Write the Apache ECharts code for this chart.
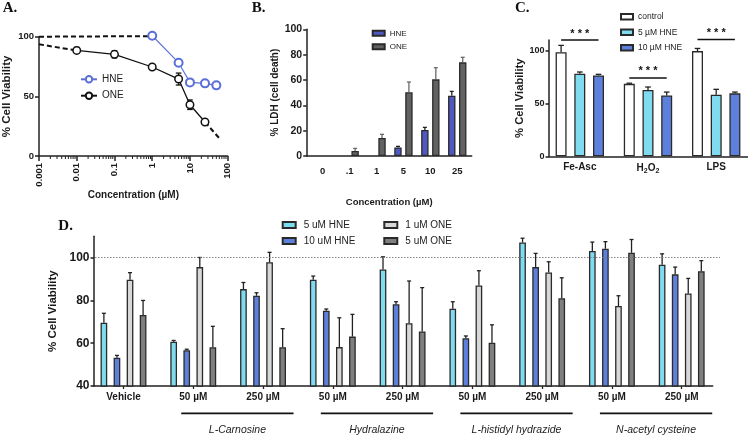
<!DOCTYPE html>
<html><head><meta charset="utf-8">
<script src="https://cdn.jsdelivr.net/npm/echarts@6/dist/echarts.min.js"></script>
<style>html,body{margin:0;padding:0;background:#fff}#c{width:748px;height:437px}</style>
</head><body><div id="c"></div>
<script>
// ---------- Panel A data ----------
const aXTicks = [0.001, 0.01, 0.1, 1, 10, 100];
const aHneConc = [1, 5, 10, 25, 50];
const aHneViab = [100.8, 78.2, 61.7, 60.9, 59.2];
const aOneConc = [0.01, 0.1, 1, 5, 10, 25];
const aOneViab = [88.5, 85.2, 74.6, 64.5, 43.0, 28.5];
const aOneErr = [2.5, 3.0, 2.0, 5.0, 4.0, 1.5];
const aHneFitConc = [0.001, 1];
const aHneFitViab = [100, 100.5];
const aOneFitLowConc = [0.001, 0.01];
const aOneFitLowViab = [93.6, 88.5];
const aOneFitHighConc = [25, 66];
const aOneFitHighViab = [28.5, 13.4];
// ---------- Panel B data ----------
const bCats = ['0', '.1', '1', '5', '10', '25'];
const bHne = [null, null, null, 6.8, 20.5, 47.6];
const bHneErr = [null, null, null, 0.8, 2.1, 3.4];
const bOne = [null, 3.9, 14.2, 50.3, 60.5, 73.9];
const bOneErr = [null, 2.1, 2.9, 8.1, 9.2, 4.0];
// ---------- Panel C data ----------
const cCats = ['Fe-Asc', 'H2O2', 'LPS'];
const cControl = [98.5, 68.6, 99.6];
const cControlErr = [6.5, 0.6, 2.5];
const cHne5 = [78.2, 62.7, 58.3];
const cHne5Err = [1.6, 2.9, 5.1];
const cHne10 = [76.6, 57.6, 59.6];
const cHne10Err = [1.0, 3.2, 1.2];
const cSigLevel = [110.1, 74.2, 110.5];
const cSigText = ['***', '***', '***'];
// ---------- Panel D data ----------
const dCats = ['Vehicle', '50 µM', '250 µM', '50 µM', '250 µM', '50 µM', '250 µM', '50 µM', '250 µM'];
const dHne5 = [69.6, 60.7, 85.3, 89.7, 94.5, 76.1, 107.1, 103.1, 96.7];
const dHne5Err = [4.4, 0.6, 3.1, 1.7, 5.9, 3.3, 2.0, 4.2, 5.1];
const dHne10 = [53.2, 56.7, 82.2, 75.2, 78.2, 62.3, 95.6, 104.2, 92.2];
const dHne10Err = [1.1, 0.5, 1.4, 0.8, 1.2, 1.1, 6.4, 3.3, 3.4];
const dOne1 = [89.7, 95.6, 97.9, 58.2, 69.4, 87.0, 93.1, 77.4, 83.3];
const dOne1Err = [3.3, 4.5, 4.6, 13.7, 19.7, 6.9, 5.0, 4.8, 7.0];
const dOne5 = [73.2, 58.1, 58.1, 63.1, 65.5, 60.2, 81.0, 102.3, 93.7];
const dOne5Err = [6.8, 9.8, 8.7, 10.4, 20.5, 8.4, 9.6, 6.2, 4.9];
const dGroups = ['L-Carnosine', 'Hydralazine', 'L-histidyl hydrazide', 'N-acetyl cysteine'];
const dGroupStart = [1, 3, 5, 7];
const dRefLevel = 100;

// ---------- styling ----------
const FONT = 'Liberation Sans';
const INK = '#1a1a1a';
const BORDER = '#2a2a2a';
const axLine = {show: true, onZero: false, lineStyle: {color: '#222', width: 1.5}};
const tick = (len) => ({show: true, length: len, lineStyle: {color: '#222', width: 1.5}});
const lbl = (size, margin) => ({fontFamily: FONT, fontWeight: 'bold', fontSize: size, color: INK, margin: margin});
const nameTS = (size) => ({fontFamily: FONT, fontWeight: 'bold', fontSize: size, color: INK});
const legendFmt = (n) => n.replace(/^[A-D]-/, '');

// minor tick positions of the log axis (2..9 within each decade)
const aMinor = [];
for (let k = 0; k < aXTicks.length - 1; k++) for (let m = 2; m <= 9; m++) aMinor.push(aXTicks[k] * m);

function barErrors(xi, yi, vals, errs, idx, n, pitch, cap, color) {
  return {
    type: 'custom', xAxisIndex: xi, yAxisIndex: yi, z: 3, silent: true, clip: false,
    data: vals.map((v, i) => (v == null || errs[i] == null) ? [i, '-', '-'] : [i, v, v + errs[i]]),
    renderItem(params, api) {
      const v = api.value(1);
      if (v == null || isNaN(v)) return null;
      const p0 = api.coord([api.value(0), v]);
      const p1 = api.coord([api.value(0), api.value(2)]);
      const x = p0[0] + (idx - (n - 1) / 2) * pitch;
      return {type: 'group', children: [
        {type: 'line', shape: {x1: x, y1: p0[1], x2: x, y2: p1[1]}, style: {stroke: color, lineWidth: 1.3}},
        {type: 'line', shape: {x1: x - cap, y1: p1[1], x2: x + cap, y2: p1[1]}, style: {stroke: color, lineWidth: 1.3}}
      ]};
    }
  };
}
function bar(name, xi, yi, data, color, w, gap) {
  return {type: 'bar', name: name, xAxisIndex: xi, yAxisIndex: yi, data: data, barWidth: w, barGap: gap,
    itemStyle: {color: color, borderColor: BORDER, borderWidth: 1.3}};
}

// bar geometry
const bW = 7.4, bG = 0.48, bP = bW * (1 + bG);
const cW = 11, cG = 0.70, cP = cW * (1 + cG);
const dW = 6.7, dG = 0.95, dP = dW * (1 + dG);

const HNE_A = '#5b6fd8';
const C_CYAN = '#7fdbef', C_BLUE = '#5d80dd';
const TITLE_TS = {fontFamily: 'Liberation Serif', fontWeight: 'bold', fontSize: 15, color: '#111'};

const option = {
  animation: false,
  backgroundColor: '#fff',
  textStyle: {fontFamily: FONT},
  title: [
    {text: 'A.', left: 2.7, top: 1, padding: 0, textStyle: TITLE_TS},
    {text: 'B.', left: 251.7, top: 1, padding: 0, textStyle: TITLE_TS},
    {text: 'C.', left: 515, top: 1, padding: 0, textStyle: TITLE_TS},
    {text: 'D.', left: 58.3, top: 219, padding: 0, textStyle: TITLE_TS}
  ],
  legend: [
    {data: ['A-HNE', 'A-ONE'], orient: 'vertical', left: 80, top: 74.3, padding: 0, itemWidth: 16, itemHeight: 8, itemGap: 6.4,
      formatter: legendFmt, textStyle: {fontFamily: FONT, fontSize: 10, color: '#222'}},
    {data: ['B-HNE', 'B-ONE'], orient: 'vertical', left: 371.7, top: 29.3, padding: 0, icon: 'rect', itemWidth: 12, itemHeight: 5, itemGap: 5.4,
      formatter: legendFmt, textStyle: {fontFamily: FONT, fontSize: 8, color: '#222'}},
    {data: ['C-control', 'C-5 µM HNE', 'C-10 µM HNE'], orient: 'vertical', left: 620, top: 12.2, padding: 0, icon: 'rect', itemWidth: 12, itemHeight: 5.5, itemGap: 6.5,
      formatter: legendFmt, textStyle: {fontFamily: FONT, fontSize: 8.5, color: '#222'}},
    {data: ['D-5 uM HNE', 'D-10 uM HNE'], orient: 'vertical', left: 281.7, top: 220, padding: 0, icon: 'rect', itemWidth: 13, itemHeight: 6, itemGap: 6,
      formatter: legendFmt, textStyle: {fontFamily: FONT, fontSize: 10, color: '#222', padding: [0, 0, 0, 3]}},
    {data: ['D-1 uM ONE', 'D-5 uM ONE'], orient: 'vertical', left: 383.3, top: 220, padding: 0, icon: 'rect', itemWidth: 13, itemHeight: 6, itemGap: 6,
      formatter: legendFmt, textStyle: {fontFamily: FONT, fontSize: 10, color: '#222', padding: [0, 0, 0, 3]}}
  ],
  grid: [
    {left: 39, top: 36.7, width: 188.7, height: 119.3, outerBoundsMode: 'none'},
    {left: 309.3, top: 29.3, width: 161.4, height: 126.7, outerBoundsMode: 'none'},
    {left: 306.7, top: 29.3, width: 165, height: 126.7, outerBoundsMode: 'none'},
    {left: 545.7, top: 40.1, width: 204.6, height: 116.2, outerBoundsMode: 'none'},
    {left: 549, top: 40.1, width: 199, height: 116.2, outerBoundsMode: 'none'},
    {left: 88.6, top: 236.3, width: 628, height: 149.7, outerBoundsMode: 'none'},
    {left: 94, top: 236.3, width: 618.7, height: 149.7, outerBoundsMode: 'none'},
    {left: 95, top: 236.3, width: 625, height: 149.7, outerBoundsMode: 'none'}
  ],
  xAxis: [
    // 0 A (log)
    {type: 'log', logBase: 10, gridIndex: 0, min: 0.001, max: 100, axisLine: axLine, axisTick: tick(5),
      axisLabel: Object.assign(lbl(9.5, 7), {rotate: 90, formatter: (v) => String(+(+v).toPrecision(3))}),
      splitLine: {show: false}, minorTick: {show: false},
      name: 'Concentration (µM)', nameLocation: 'middle', nameGap: 32, nameTextStyle: nameTS(10)},
    // 1 B categories
    {type: 'category', gridIndex: 1, data: bCats, axisLine: {show: false}, axisTick: {show: false}, axisLabel: Object.assign(lbl(9.5, 10), {interval: 0})},
    // 2 B frame
    {type: 'value', gridIndex: 2, min: 0, max: 1, axisLine: axLine, axisTick: {show: false}, axisLabel: {show: false}, splitLine: {show: false},
      name: 'Concentration (µM)', nameLocation: 'middle', nameGap: 41, nameTextStyle: nameTS(9.5)},
    // 3 C categories
    {type: 'category', gridIndex: 3, data: cCats, axisLine: {show: false}, axisTick: {show: false},
      axisLabel: Object.assign(lbl(10, 6), {
        interval: 0,
        formatter: (v) => v === 'H2O2' ? '{b|H}{s|2}{b|O}{s|2}' : '{b|' + v + '}',
        rich: {b: {fontFamily: FONT, fontWeight: 'bold', fontSize: 10, color: INK},
               s: {fontFamily: FONT, fontWeight: 'bold', fontSize: 7, color: INK, padding: [5, 0, 0, 0]}}
      })},
    // 4 C frame
    {type: 'value', gridIndex: 4, min: 0, max: 1, axisLine: axLine, axisTick: {show: false}, axisLabel: {show: false}, splitLine: {show: false}},
    // 5 D categories
    {type: 'category', gridIndex: 5, data: dCats, axisLine: {show: false},
      axisTick: {show: true, alignWithLabel: true, interval: 0, length: 3, lineStyle: {color: '#222', width: 1.3}}, axisLabel: Object.assign(lbl(10, 6.5), {interval: 0})},
    // 6 D frame
    {type: 'value', gridIndex: 6, min: 0, max: 1, axisLine: axLine, axisTick: {show: false}, axisLabel: {show: false}, splitLine: {show: false}},
    // 7 D reference line
    {type: 'value', gridIndex: 7, min: 0, max: 1, show: false}
  ],
  yAxis: [
    // 0 A
    {type: 'value', gridIndex: 0, min: 0, max: 100, interval: 50, axisLine: axLine, axisTick: tick(4), axisLabel: lbl(9.5, 5),
      splitLine: {show: false}, name: '% Cell Viability', nameLocation: 'middle', nameGap: 26, nameTextStyle: nameTS(11.5)},
    // 1 B data (hidden)
    {type: 'value', gridIndex: 1, min: 0, max: 100, show: false},
    // 2 B frame
    {type: 'value', gridIndex: 2, min: 0, max: 100, interval: 20, axisLine: axLine, axisTick: tick(3.5), axisLabel: lbl(10.5, 4.5),
      splitLine: {show: false}, name: '% LDH (cell death)', nameLocation: 'middle', nameGap: 26.7, nameTextStyle: nameTS(10)},
    // 3 C data (hidden)
    {type: 'value', gridIndex: 3, min: 0, max: 110, show: false},
    // 4 C frame
    {type: 'value', gridIndex: 4, min: 0, max: 110, interval: 50, axisLine: axLine,
      axisTick: Object.assign(tick(3.5), {customValues: [0, 50, 100]}),
      axisLabel: Object.assign(lbl(9, 4.5), {customValues: [0, 50, 100]}),
      splitLine: {show: false}, name: '% Cell Viability', nameLocation: 'middle', nameGap: 21.7, nameTextStyle: nameTS(11.2)},
    // 5 D data (hidden)
    {type: 'value', gridIndex: 5, min: 40, max: 110, show: false},
    // 6 D frame
    {type: 'value', gridIndex: 6, min: 40, max: 110, interval: 20, axisLine: axLine,
      axisTick: Object.assign(tick(3.5), {customValues: [40, 60, 80, 100]}),
      axisLabel: Object.assign(lbl(12, 4.5), {customValues: [40, 60, 80, 100]}),
      splitLine: {show: false}, name: '% Cell Viability', nameLocation: 'middle', nameGap: 33, nameTextStyle: nameTS(11.5)},
    // 7 D reference (hidden)
    {type: 'value', gridIndex: 7, min: 40, max: 110, show: false}
  ],
  series: [
    // ----- A -----
    // minor ticks on the log axis
    {type: 'custom', xAxisIndex: 0, yAxisIndex: 0, silent: true, clip: false, z: 1,
      data: aMinor.map((v) => [v, 0]),
      renderItem(params, api) {
        const p = api.coord([api.value(0), api.value(1)]);
        return {type: 'line', shape: {x1: p[0], y1: p[1], x2: p[0], y2: p[1] + 3}, style: {stroke: '#222', lineWidth: 1}};
      }},
    {type: 'custom', xAxisIndex: 0, yAxisIndex: 0, silent: true, clip: false, z: 1,
      data: aOneConc.map((c, i) => [c, aOneViab[i] - aOneErr[i], aOneViab[i] + aOneErr[i]]),
      renderItem(params, api) {
        const lo = api.coord([api.value(0), api.value(1)]);
        const hi = api.coord([api.value(0), api.value(2)]);
        const x = lo[0], cap = 2.8;
        const st = {stroke: '#111', lineWidth: 1.3};
        return {type: 'group', children: [
          {type: 'line', shape: {x1: x, y1: lo[1], x2: x, y2: hi[1]}, style: st},
          {type: 'line', shape: {x1: x - cap, y1: lo[1], x2: x + cap, y2: lo[1]}, style: st},
          {type: 'line', shape: {x1: x - cap, y1: hi[1], x2: x + cap, y2: hi[1]}, style: st}
        ]};
      }},
    {type: 'line', name: 'A-fitHNE', xAxisIndex: 0, yAxisIndex: 0, clip: false, symbol: 'none', silent: true,
      data: aHneFitConc.map((c, i) => [c, aHneFitViab[i]]), lineStyle: {color: '#111', width: 2, type: [5, 3]}},
    {type: 'line', name: 'A-fitONE1', xAxisIndex: 0, yAxisIndex: 0, clip: false, symbol: 'none', silent: true,
      data: aOneFitLowConc.map((c, i) => [c, aOneFitLowViab[i]]), lineStyle: {color: '#111', width: 2, type: [5, 3]}},
    {type: 'line', name: 'A-fitONE2', xAxisIndex: 0, yAxisIndex: 0, clip: false, symbol: 'none', silent: true,
      data: aOneFitHighConc.map((c, i) => [c, aOneFitHighViab[i]]), lineStyle: {color: '#111', width: 2, type: [5, 3]}},
    {type: 'line', name: 'A-HNE', xAxisIndex: 0, yAxisIndex: 0, clip: false, symbol: 'circle', symbolSize: 8,
      data: aHneConc.map((c, i) => [c, aHneViab[i]]),
      lineStyle: {color: HNE_A, width: 1.1}, itemStyle: {color: '#fff', borderColor: HNE_A, borderWidth: 2}},
    {type: 'line', name: 'A-ONE', xAxisIndex: 0, yAxisIndex: 0, clip: false, symbol: 'circle', symbolSize: 7.5,
      data: aOneConc.map((c, i) => [c, aOneViab[i]]),
      lineStyle: {color: '#111', width: 1.3}, itemStyle: {color: '#fff', borderColor: '#111', borderWidth: 1.5}},
    // ----- B -----
    bar('B-HNE', 1, 1, bHne, '#5059c2', bW, (bG * 100) + '%'),
    bar('B-ONE', 1, 1, bOne, '#626262', bW, (bG * 100) + '%'),
    barErrors(1, 1, bHne, bHneErr, 0, 2, bP, 2, '#222'),
    barErrors(1, 1, bOne, bOneErr, 1, 2, bP, 2, '#6a6a6a'),
    // ----- C -----
    bar('C-control', 3, 3, cControl, '#ffffff', cW, (cG * 100) + '%'),
    bar('C-5 µM HNE', 3, 3, cHne5, C_CYAN, cW, (cG * 100) + '%'),
    bar('C-10 µM HNE', 3, 3, cHne10, C_BLUE, cW, (cG * 100) + '%'),
    barErrors(3, 3, cControl, cControlErr, 0, 3, cP, 2.8, '#222'),
    barErrors(3, 3, cHne5, cHne5Err, 1, 3, cP, 2.8, '#222'),
    barErrors(3, 3, cHne10, cHne10Err, 2, 3, cP, 2.8, '#222'),
    {type: 'custom', xAxisIndex: 3, yAxisIndex: 3, silent: true, clip: false, z: 4,
      data: cSigLevel.map((v, i) => [i, v]),
      renderItem(params, api) {
        const p = api.coord([api.value(0), api.value(1)]);
        return {type: 'group', children: [
          {type: 'line', shape: {x1: p[0] - cP, y1: p[1], x2: p[0] + cP, y2: p[1]}, style: {stroke: '#111', lineWidth: 1.5}},
          {type: 'text', x: p[0], y: p[1] - 1, style: {text: cSigText[params.dataIndex].split('').join(' '), fontFamily: FONT, fontWeight: 'bold',
            fontSize: 11, fill: '#111', align: 'center', verticalAlign: 'bottom'}}
        ]};
      }},
    // ----- D -----
    bar('D-5 uM HNE', 5, 5, dHne5, C_CYAN, dW, (dG * 100) + '%'),
    bar('D-10 uM HNE', 5, 5, dHne10, C_BLUE, dW, (dG * 100) + '%'),
    bar('D-1 uM ONE', 5, 5, dOne1, '#d8d8d8', dW, (dG * 100) + '%'),
    bar('D-5 uM ONE', 5, 5, dOne5, '#7f7f7f', dW, (dG * 100) + '%'),
    barErrors(5, 5, dHne5, dHne5Err, 0, 4, dP, 2, '#222'),
    barErrors(5, 5, dHne10, dHne10Err, 1, 4, dP, 2, '#222'),
    barErrors(5, 5, dOne1, dOne1Err, 2, 4, dP, 2, '#222'),
    barErrors(5, 5, dOne5, dOne5Err, 3, 4, dP, 2, '#222'),
    {type: 'custom', xAxisIndex: 5, yAxisIndex: 5, silent: true, clip: false,
      data: dGroupStart.map((s, i) => [s, 40, i]),
      renderItem(params, api) {
        const a = api.coord([api.value(0), 40]);
        const b = api.coord([api.value(0) + 1, 40]);
        const x1 = a[0] - 12, x2 = b[0] + 30.5;
        return {type: 'group', children: [
          {type: 'line', shape: {x1: x1, y1: a[1] + 27.3, x2: x2, y2: a[1] + 27.3}, style: {stroke: '#111', lineWidth: 1.8}},
          {type: 'text', x: (x1 + x2) / 2, y: a[1] + 44, style: {text: dGroups[params.dataIndex], fontFamily: FONT, fontStyle: 'italic',
            fontSize: 10.5, fill: '#222', align: 'center', verticalAlign: 'middle'}}
        ]};
      }},
    {type: 'line', xAxisIndex: 7, yAxisIndex: 7, data: [], silent: true,
      markLine: {silent: true, symbol: ['none', 'none'], label: {show: false},
        lineStyle: {type: [1.5, 1.5], color: '#777', width: 0.9}, data: [{yAxis: dRefLevel}]}}
  ]
};

const chart = echarts.init(document.getElementById('c'), null, {renderer: 'canvas'});
chart.setOption(option);
</script></body></html>
